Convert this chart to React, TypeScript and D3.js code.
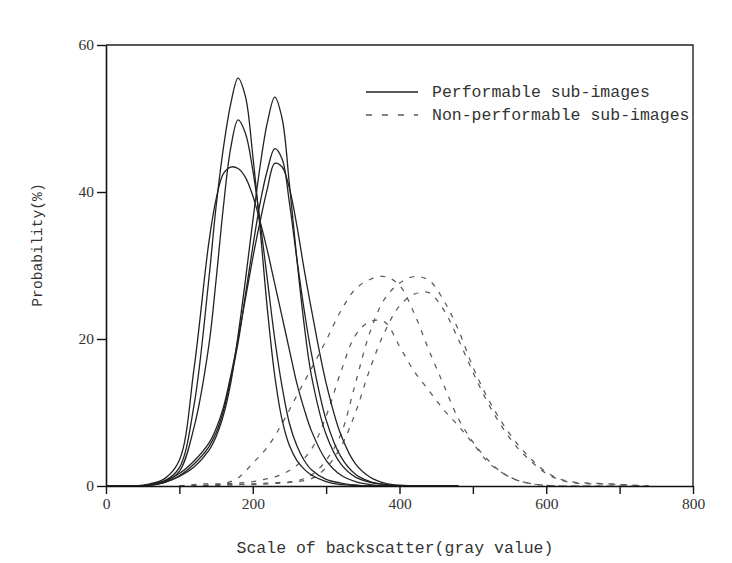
import React, { useEffect, useRef } from 'react';
import * as d3 from 'd3';

// sample points (gray value) for the performable curves
const grayFine = [0, 20, 40, 60, 80, 100, 120, 140, 150, 160, 170, 180, 190, 200, 210, 220, 230, 240, 250, 260, 270, 280, 300, 320, 340, 360, 380, 400, 440, 480];
// sample points for the non-performable curves
const grayWide = [100, 120, 140, 160, 180, 200, 220, 240, 260, 280, 300, 320, 340, 360, 380, 400, 420, 440, 460, 480, 500, 520, 540, 560, 580, 600, 620, 640, 660, 680, 700, 720, 740];

// performable sub-images, probability (%)
const perfA = [0, 0, 0, 0.2, 0.7, 2.5, 11, 28, 38, 46, 52, 55.5, 53, 45, 35, 24, 15, 9, 5.5, 3.5, 2.3, 1.5, 0.6, 0.2, 0.1, 0, 0, 0, 0, 0];
const perfB = [0, 0, 0, 0.2, 0.6, 2, 8, 19, 28, 38, 46, 49.8, 48, 43, 36, 28, 20, 13.5, 8.5, 5.5, 3.5, 2.2, 0.9, 0.4, 0.1, 0, 0, 0, 0, 0];
const perfC = [0, 0, 0, 0.3, 1, 3.5, 16, 33, 39, 42.5, 43.4, 43.2, 42, 39.5, 36, 32, 27.5, 23, 18.5, 14, 10.5, 7.5, 3.5, 1.5, 0.6, 0.2, 0, 0, 0, 0];
const perfD = [0, 0, 0, 0.1, 0.5, 1.3, 2.6, 4.8, 6.7, 9.6, 14, 20.5, 28, 36, 43.5, 49.5, 52.9, 50, 41, 31, 22, 15, 7, 3, 1.2, 0.5, 0.2, 0, 0, 0];
const perfE = [0, 0, 0, 0.1, 0.5, 1.4, 3, 5.3, 7.2, 10.2, 14.5, 19.5, 26, 32.5, 38.5, 43, 45.9, 44.5, 38.5, 31, 24, 18, 9, 4, 1.6, 0.6, 0.2, 0, 0, 0];
const perfF = [0, 0, 0, 0.2, 0.7, 1.7, 3.4, 5.8, 7.8, 10.7, 15, 20, 25.5, 31, 36, 40.5, 43.9, 43.4, 40.5, 35.5, 29.5, 24, 14, 7, 3, 1.2, 0.4, 0.1, 0, 0];

// non-performable sub-images, probability (%)
const nonPerfA = [0, 0, 0.1, 0.3, 1.1, 3.1, 5.3, 8.5, 12.3, 16, 19.8, 23.8, 26.8, 28.1, 28.5, 27.3, 23.5, 18.5, 13.8, 9.2, 6, 3.6, 1.8, 0.8, 0.3, 0.1, 0, 0, 0, 0, 0, 0, 0];
const nonPerfB = [0, 0.2, 0.3, 0.3, 0.4, 0.6, 1, 1.6, 2.8, 5, 9.5, 15.5, 20.5, 22.4, 22.3, 19, 15.6, 13, 10.4, 8.2, 5.8, 3.3, 1.8, 0.8, 0.3, 0.1, 0, 0, 0, 0, 0, 0, 0];
const nonPerfC = [0, 0.1, 0.1, 0.2, 0.2, 0.3, 0.4, 0.5, 0.7, 1.5, 3.5, 7, 14, 21, 25.5, 27.6, 28.5, 28, 25.3, 21.3, 16.2, 12, 8.6, 5.8, 3.6, 1.9, 0.9, 0.5, 0.4, 0.3, 0.2, 0.1, 0];
const nonPerfD = [0, 0, 0.1, 0.1, 0.2, 0.2, 0.3, 0.4, 0.6, 1, 2.5, 5.3, 10, 16, 21, 24.5, 26.1, 26.3, 24, 20, 15.5, 11.4, 8, 5.3, 3.3, 1.7, 0.8, 0.4, 0.3, 0.3, 0.2, 0.1, 0];

const xTicks = [0, 100, 200, 300, 400, 500, 600, 700, 800];
const yTicks = [0, 20, 40, 60];
const legendLabels = ['Performable sub-images', 'Non-performable sub-images'];

const W = 732, H = 563;

const draw = (el: SVGSVGElement) => {
	const svg = d3.select(el);
	svg.selectAll('*').remove();

	const x = d3.scaleLinear().domain([0, 800]).range([106, 693]);
	const y = d3.scaleLinear().domain([0, 60]).range([486, 45]);

	// frame (top + right)
	svg.append('path')
		.attr('d', `M${x(0)},${y(60)}H${x(800)}V${y(0)}`)
		.attr('fill', 'none').attr('stroke', '#222').attr('stroke-width', 1.4);

	// curves
	const clamp = (v: number) => Math.max(0, v);
	const solidLine = d3.line<number>()
		.x((d, i) => x(grayFine[i]))
		.y(d => y(clamp(d)))
		.curve(d3.curveCatmullRom.alpha(0.5));
	const dashLine = d3.line<number>()
		.x((d, i) => x(grayWide[i]))
		.y(d => y(clamp(d)))
		.curve(d3.curveCatmullRom.alpha(0.5));

	[nonPerfA, nonPerfB, nonPerfC, nonPerfD].forEach(s => {
		svg.append('path').attr('d', dashLine(s))
			.attr('fill', 'none').attr('stroke', '#5a5a5a').attr('stroke-width', 1.25)
			.attr('stroke-dasharray', '5 7');
	});
	[perfA, perfB, perfC, perfD, perfE, perfF].forEach(s => {
		svg.append('path').attr('d', solidLine(s))
			.attr('fill', 'none').attr('stroke', '#222').attr('stroke-width', 1.3);
	});

	// axes
	const xAxis = d3.axisBottom(x).tickValues(xTicks)
		.tickFormat(d => (+d % 200 === 0 ? String(d) : ''))
		.tickSize(8).tickSizeOuter(0).tickPadding(4);
	const yAxis = d3.axisLeft(y).tickValues(yTicks)
		.tickSize(9).tickSizeOuter(0).tickPadding(3);

	const gx = svg.append('g').attr('transform', `translate(0,${y(0)})`).call(xAxis);
	const gy = svg.append('g').attr('transform', `translate(${x(0)},0)`).call(yAxis);
	[gx, gy].forEach(g => {
		g.select('.domain').attr('stroke', '#111').attr('stroke-width', 1.6);
		g.selectAll('.tick line').attr('stroke', '#111').attr('stroke-width', 1.4);
		g.selectAll('.tick text')
			.attr('fill', '#333')
			.attr('font-family', '"Liberation Serif", serif')
			.attr('font-size', '15.5px');
	});

	// axis titles
	svg.append('text')
		.attr('x', 395).attr('y', 553)
		.attr('text-anchor', 'middle')
		.attr('font-family', '"Liberation Mono", monospace')
		.attr('font-size', '16.5px').attr('fill', '#333')
		.text('Scale of backscatter(gray value)');
	svg.append('text')
		.attr('transform', 'translate(42,245) rotate(-90)')
		.attr('text-anchor', 'middle')
		.attr('font-family', '"Liberation Mono", monospace')
		.attr('font-size', '14.7px').attr('fill', '#333')
		.text('Probability(%)');

	// legend
	const lg = svg.append('g');
	legendLabels.forEach((lab, i) => {
		const ly = 92 + i * 23;
		lg.append('line')
			.attr('x1', 366).attr('x2', 418).attr('y1', ly).attr('y2', ly)
			.attr('stroke', i === 0 ? '#222' : '#5a5a5a').attr('stroke-width', 1.3)
			.attr('stroke-dasharray', i === 0 ? null : '6 10');
		lg.append('text')
			.attr('x', 432).attr('y', ly + 5)
			.attr('font-family', '"Liberation Mono", monospace')
			.attr('font-size', '16.5px').attr('fill', '#333')
			.text(lab);
	});
};

export default function App() {
	const ref = useRef<SVGSVGElement>(null);
	useEffect(() => {
		if (ref.current) draw(ref.current);
	}, []);
	return (
		<div style={{ position: 'fixed', left: 0, top: 0, background: '#fff' }}>
			<svg ref={ref} width={W} height={H} style={{ display: 'block' }} />
		</div>
	);
}
